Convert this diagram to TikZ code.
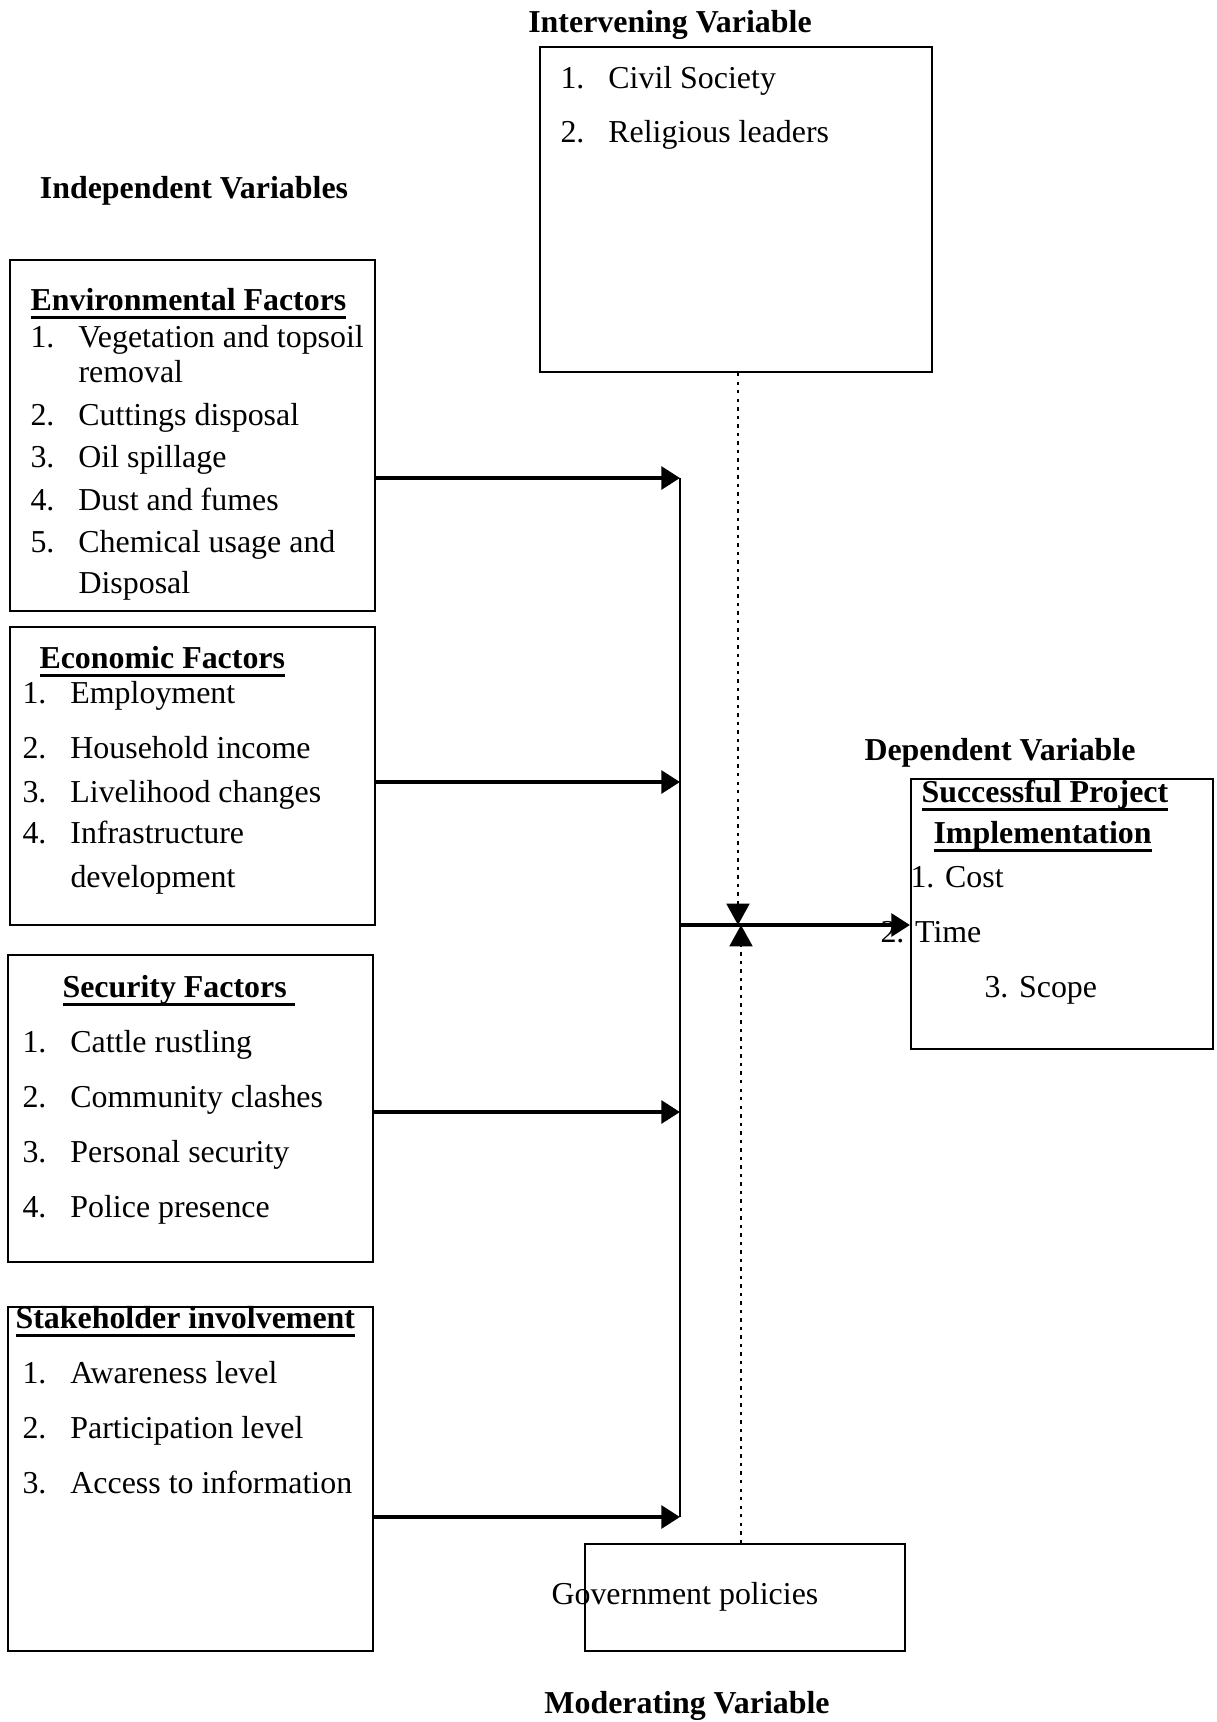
\documentclass[12pt,tikz,border=0pt]{standalone}
\usepackage{fontspec}
\setmainfont{Liberation Serif}
\usetikzlibrary{arrows.meta,fit}
\newsavebox{\titlebox}
\newcommand{\thickul}[1]{\sbox{\titlebox}{#1}\rlap{\vrule height -2.2pt depth 3.2pt width \wd\titlebox}\usebox{\titlebox}}
\newcommand{\num}[1]{\makebox[18pt][l]{#1}}
\tikzset{
  varbox/.style={draw, line width=0.75pt, inner sep=0pt},
  item/.style={anchor=base west, inner sep=0pt},
  heading/.style={anchor=base, inner sep=0pt, font=\bfseries},
  feed/.style={line width=1.5pt, -{Triangle[length=7pt,width=8.5pt]}},
  bus/.style={line width=0.75pt},
  influence/.style={line width=1.1pt, dash pattern=on 1.3pt off 1.9pt, -{Triangle[length=8pt,width=8.5pt,sep=0pt]}}
}
\begin{document}
\begin{tikzpicture}[x=0.376pt, y=-0.376pt]
                    \useasboundingbox (0,0) rectangle (1216,1722);
                    {\fontsize{12}{14}\selectfont

                    % Headings of the variables
                    \node [heading] (intvT) at (670,32) {Intervening Variable};%
                    \node [heading] (indepT) at (194,198) {Independent Variables};%
                    \node [heading] (depT) at (1000,760) {Dependent Variable};%
                    \node [heading] (modT) at (687,1713) {Moderating Variable};%

                    % Boxes
                    \node [varbox, fit={(540,47) (932,372)}] (intv) {};%
                    \node [varbox, fit={(10,260) (375,611)}] (env) {};%
                    \node [varbox, fit={(10,627) (375,925)}] (econ) {};%
                    \node [varbox, fit={(8,955) (373,1262)}] (secu) {};%
                    \node [varbox, fit={(8,1307) (373,1651)}] (stake) {};%
                    \node [varbox, fit={(911,779) (1213,1049)}] (dep) {};%
                    \node [varbox, fit={(585,1544) (905,1651)}] (gov) {};%

                    % Intervening variable
                    \node [item] (intv1) at (560,88) {\num{1.}Civil Society};%
                    \node [item] (intv2) at (560,142) {\num{2.}Religious leaders};%

                    % Environmental factors
                    \node [item, font=\bfseries] (envT) at (30,310) {\thickul{Environmental Factors}};%
                    \node [item] (env1) at (30,347) {\num{1.}Vegetation and topsoil};%
                    \node [item] (env1b) at (78,382) {removal};%
                    \node [item] (env2) at (30,425) {\num{2.}Cuttings disposal};%
                    \node [item] (env3) at (30,467) {\num{3.}Oil spillage};%
                    \node [item] (env4) at (30,510) {\num{4.}Dust and fumes};%
                    \node [item] (env5) at (30,552) {\num{5.}Chemical usage and};%
                    \node [item] (env5b) at (78,593) {Disposal};%

                    % Economic factors
                    \node [item, font=\bfseries] (econT) at (39,668) {\thickul{Economic Factors}};%
                    \node [item] (econ1) at (22,703) {\num{1.}Employment};%
                    \node [item] (econ2) at (22,758) {\num{2.}Household income};%
                    \node [item] (econ3) at (22,802) {\num{3.}Livelihood changes};%
                    \node [item] (econ4) at (22,843) {\num{4.}Infrastructure};%
                    \node [item] (econ4b) at (70,887) {development};%

                    % Security factors
                    \node [item, font=\bfseries] (secuT) at (62,997) {\thickul{Security Factors\ }};%
                    \node [item] (secu1) at (22,1052) {\num{1.}Cattle rustling};%
                    \node [item] (secu2) at (22,1107) {\num{2.}Community clashes};%
                    \node [item] (secu3) at (22,1162) {\num{3.}Personal security};%
                    \node [item] (secu4) at (22,1217) {\num{4.}Police presence};%

                    % Stakeholder involvement
                    \node [item, font=\bfseries] (stakeT) at (15,1328) {\thickul{Stakeholder involvement}};%
                    \node [item] (stake1) at (22,1383) {\num{1.}Awareness level};%
                    \node [item] (stake2) at (22,1438) {\num{2.}Participation level};%
                    \node [item] (stake3) at (22,1493) {\num{3.}Access to information};%

                    % Dependent variable
                    \node [item, font=\bfseries] (depA) at (921,802) {\thickul{Successful Project}};%
                    \node [item, font=\bfseries] (depB) at (933,843) {\thickul{Implementation}};%
                    \node [item] (dep1) at (910,887) {1. Cost};%
                    \node [item] (dep2) at (880,942) {2. Time};%
                    \node [item] (dep3) at (984,997) {3. Scope};%

                    % Moderating variable
                    \node [item] (gov1) at (551,1604) {Government policies};%

                    % Points on the collecting line
                    \coordinate (busEnv) at (680,478);%
                    \coordinate (busEcon) at (680,782);%
                    \coordinate (busSecu) at (680,1112);%
                    \coordinate (busStake) at (680,1517);%
                    \coordinate (busDep) at (680,925);%
                    \coordinate (meetTop) at (738,925);%
                    \coordinate (meetBot) at (741,925);%

                    % Collecting line
                    \draw [bus] (busEnv) -- (busStake);%

                    % Arrows from the independent variables
                    \draw [feed] (env.east |- busEnv) -- (busEnv);%
                    \draw [feed] (econ.east |- busEcon) -- (busEcon);%
                    \draw [feed] (secu.east |- busSecu) -- (busSecu);%
                    \draw [feed] (stake.east |- busStake) -- (busStake);%

                    % Arrow to the dependent variable
                    \draw [feed] (busDep) -- (dep.west |- busDep);%

                    % Dotted arrows of intervening and moderating variables
                    \draw [influence] (intv.south -| meetTop) -- (meetTop);%
                    \draw [influence] (gov.north -| meetBot) -- (meetBot);%
                    }
\end{tikzpicture}
\end{document}
